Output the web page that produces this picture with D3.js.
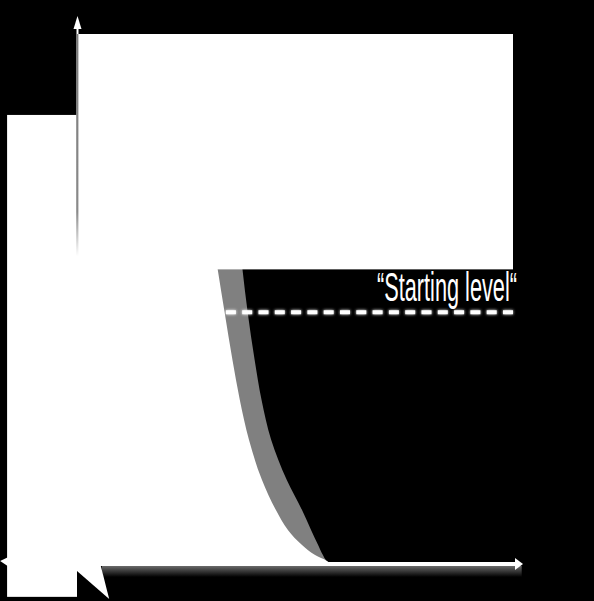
<!DOCTYPE html>
<html>
<head>
<meta charset="utf-8">
<script src="https://cdn.jsdelivr.net/npm/d3@7/dist/d3.min.js"></script>
<style>
  html, body { margin: 0; padding: 0; background: #000; }
  svg { display: block; }
</style>
</head>
<body>
<svg id="chart" width="594" height="601"></svg>
<script>
// ---- data (abstract units: time 0..100, level 0..100) ----
const xDomain = [0, 100];
const yDomain = [0, 100];
// top white block (initial high level)
const blockX = [0, 100];
const blockY = [55.6, 100];
// left white bar
const barX = [-16.3, 0];
const barY = [-6.4, 84.7];
// decline curve: inner (white) edge [time, level]
const whiteEdge = [
  [32.1, 55.6], [33.7, 47.4], [35.5, 38.4], [37.2, 30.8], [39.3, 23.3],
  [42.3, 15.7], [45.5, 10.0], [48.3, 6.2], [51.5, 3.4], [54.5, 1.5],
  [57.2, 0.4], [57.9, 0]
];
// decline curve: outer (grey) edge [time, level]
const greyEdge = [
  [37.8, 55.6], [39.0, 47.4], [40.6, 38.4], [42.2, 30.8], [44.4, 23.3],
  [48.0, 15.7], [51.5, 10.0], [53.6, 6.2], [55.2, 3.4], [56.3, 1.5],
  [57.2, 0.4], [57.9, 0]
];
const startingLevel = [34.0, 100, 47.4];   // x from, x to, level
const labels = ["\u201CStarting level\u201C"];

// ---- drawing ----
const svg = d3.select("#chart");
const x = d3.scaleLinear().domain(xDomain).range([78, 513]);
const y = d3.scaleLinear().domain(yDomain).range([563, 34]);

const defs = svg.append("defs");
const shadow = defs.append("linearGradient").attr("id", "xshadow")
  .attr("x1", 0).attr("y1", 0).attr("x2", 0).attr("y2", 1);
shadow.append("stop").attr("offset", "0%").attr("stop-color", "#6a6a6a");
shadow.append("stop").attr("offset", "100%").attr("stop-color", "#000");
const yfade = defs.append("linearGradient").attr("id", "yfade")
  .attr("x1", 0).attr("y1", 0).attr("x2", 0).attr("y2", 1);
yfade.append("stop").attr("offset", "0%").attr("stop-color", "#7a7a7a");
yfade.append("stop").attr("offset", "80%").attr("stop-color", "#8a8a8a");
yfade.append("stop").attr("offset", "100%").attr("stop-color", "#fff");
const glow = defs.append("filter").attr("id", "glow")
  .attr("filterUnits", "userSpaceOnUse")
  .attr("x", 200).attr("y", 295).attr("width", 340).attr("height", 40);
glow.append("feGaussianBlur").attr("in", "SourceGraphic").attr("stdDeviation", 1.5).attr("result", "b");
const fm = glow.append("feMerge");
fm.append("feMergeNode").attr("in", "b");
fm.append("feMergeNode").attr("in", "SourceGraphic");

// grey band (area left of grey edge), then white area
const areaGen = d3.area()
  .y(d => y(d[1]))
  .x0(x(0) - 1)
  .x1(d => x(d[0]))
  .curve(d3.curveMonotoneY);
svg.append("path").datum(greyEdge).attr("d", areaGen).attr("fill", "#808080");
svg.append("path").datum(whiteEdge).attr("d", areaGen).attr("fill", "#fff");

// top block
svg.append("rect")
  .attr("x", x(blockX[0])).attr("y", y(blockY[1]))
  .attr("width", x(blockX[1]) - x(blockX[0]))
  .attr("height", y(blockY[0]) - y(blockY[1]) + 0.5)
  .attr("fill", "#fff");

// left bar
svg.append("rect")
  .attr("x", x(barX[0])).attr("y", y(barY[1]))
  .attr("width", x(barX[1]) - x(barX[0]) - 1)
  .attr("height", y(barY[0]) - y(barY[1]))
  .attr("fill", "#fff");

// x-axis shadow
svg.append("rect")
  .attr("x", x(5.5)).attr("y", y(0) + 3)
  .attr("width", x(102) - x(5.5)).attr("height", 11)
  .attr("fill", "url(#xshadow)");

// bottom-left wedge below the axis origin
const wedge = [[0, 0], [5.3, 0], [7.4, -6.8], [0, -1.5]];
svg.append("path")
  .attr("d", d3.line().x(d => x(d[0]) - 1).y(d => y(d[1]))(wedge) + "Z")
  .attr("fill", "#fff");
// small left tick
const tick = [[-17.9, 0.4], [-16.1, 1.1], [-16.1, -0.6]];
svg.append("path")
  .attr("d", d3.line().x(d => x(d[0])).y(d => y(d[1]))(tick) + "Z")
  .attr("fill", "#fff");

// y axis
const y0 = y(0), yTop = y(103.4);
svg.append("line")
  .attr("x1", x(0) - 0.5).attr("x2", x(0) - 0.5)
  .attr("y1", y0).attr("y2", yTop + 8)
  .attr("stroke", "#fff").attr("stroke-width", 2);
svg.append("rect")
  .attr("x", x(0) - 1.8).attr("y", y(100))
  .attr("width", 2.2).attr("height", y(58) - y(100))
  .attr("fill", "url(#yfade)");
svg.append("path")
  .attr("d", `M${x(0) - 0.5},${yTop} L${x(0) - 4.5},${yTop + 13} L${x(0) + 3.5},${yTop + 13} Z`)
  .attr("fill", "#fff");

// x axis
const xEnd = x(102.3);
svg.append("line")
  .attr("x1", x(0) - 1).attr("x2", xEnd - 6)
  .attr("y1", y0 + 1).attr("y2", y0 + 1)
  .attr("stroke", "#fff").attr("stroke-width", 4);
svg.append("path")
  .attr("d", `M${xEnd},${y0 + 1} L${xEnd - 8},${y0 - 5} L${xEnd - 8},${y0 + 7} Z`)
  .attr("fill", "#fff");

// starting level dashed line
svg.append("line")
  .attr("x1", x(startingLevel[0])).attr("x2", x(startingLevel[1]))
  .attr("y1", y(startingLevel[2])).attr("y2", y(startingLevel[2]))
  .attr("stroke", "#fff").attr("stroke-width", 4)
  .attr("stroke-dasharray", "10,6.3")
  .attr("filter", "url(#glow)");

// label
svg.append("text")
  .attr("x", 377).attr("y", 300.5)
  .attr("font-family", "'Liberation Sans Narrow', 'Liberation Sans', 'DejaVu Sans Condensed', sans-serif")
  .attr("font-size", 40)
  .attr("fill", "#fff")
  .attr("textLength", 140)
  .attr("lengthAdjust", "spacingAndGlyphs")
  .text(labels[0]);
</script>
</body>
</html>
